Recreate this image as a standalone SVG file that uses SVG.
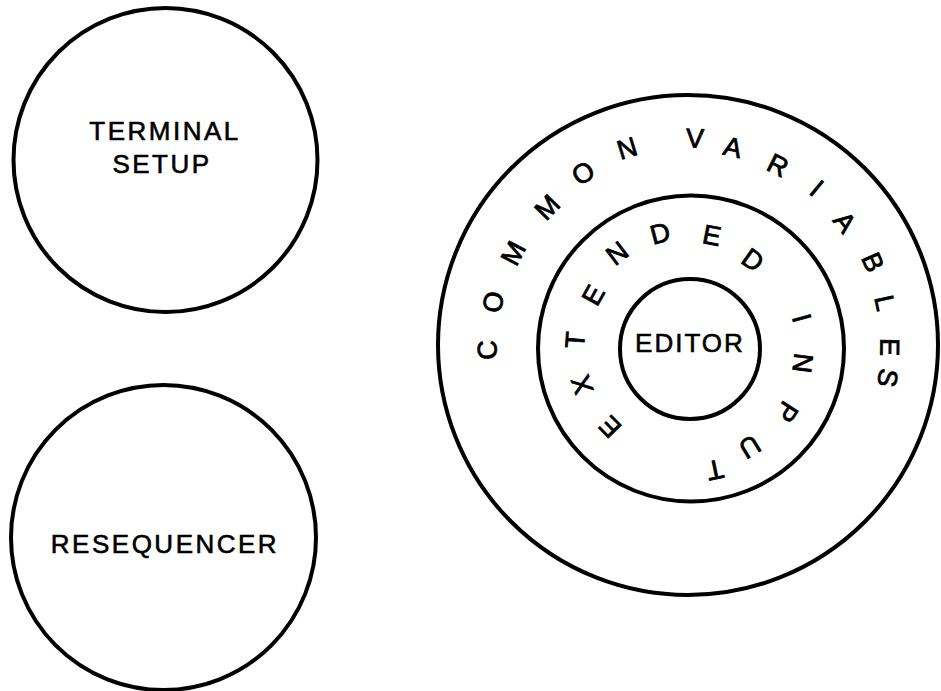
<svg xmlns="http://www.w3.org/2000/svg" width="941" height="691" viewBox="0 0 941 691">
<style>
.c{fill:none;stroke:#000;stroke-width:4}
.t{font-family:"Liberation Sans",Arial,Helvetica,sans-serif;font-size:26px;fill:#000;stroke:#000;stroke-width:0.6;text-anchor:middle;letter-spacing:2.5px}
.r{font-family:"Liberation Sans",Arial,Helvetica,sans-serif;font-size:27px;fill:#000;stroke:#000;stroke-width:0.8;text-anchor:middle}
</style>
<rect width="941" height="691" fill="#fff"/>
<g id="terminal-setup">
<circle class="c" cx="165.5" cy="160" r="152"/>
<text class="t" x="165" y="140">TERMINAL</text>
<text class="t" x="162" y="173">SETUP</text>
</g>
<g id="resequencer">
<circle class="c" cx="163.5" cy="537.5" r="152.5"/>
<text class="t" x="165" y="553">RESEQUENCER</text>
</g>
<g id="common-variables">
<circle class="c" cx="688" cy="345" r="250"/>
<text class="r" transform="translate(487,350) rotate(-91.4)" y="9.5">C</text>
<text class="r" transform="translate(493,302) rotate(-77.6)" y="9.5">O</text>
<text class="r" transform="translate(513,253) rotate(-62.3)" y="9.5">M</text>
<text class="r" transform="translate(547,207) rotate(-45.6)" y="9.5">M</text>
<text class="r" transform="translate(583,173) rotate(-31.4)" y="9.5">O</text>
<text class="r" transform="translate(627,148) rotate(-17.2)" y="9.5">N</text>
<text class="r" transform="translate(695,138) rotate(1.9)" y="9.5">V</text>
<text class="r" transform="translate(733,147) rotate(12.8)" y="9.5">A</text>
<text class="r" transform="translate(778,165) rotate(26.6)" y="9.5">R</text>
<text class="r" transform="translate(817,188) rotate(39.4)" y="9.5">I</text>
<text class="r" transform="translate(845,222) rotate(51.9)" y="9.5">A</text>
<text class="r" transform="translate(873,262) rotate(65.8)" y="9.5">B</text>
<text class="r" transform="translate(885,303) rotate(78)" y="9.5">L</text>
<text class="r" transform="translate(890,347) rotate(90.6)" y="9.5">E</text>
<text class="r" transform="translate(888,378) rotate(99.4)" y="9.5">S</text>
</g>
<g id="extended-input">
<circle class="c" cx="691" cy="348.5" r="153"/>
<text class="r" transform="translate(610,427) rotate(-134.3)" y="9.5">E</text>
<text class="r" transform="translate(582,385) rotate(-108.4)" y="9.5">X</text>
<text class="r" transform="translate(575,340) rotate(-85.5)" y="9.5">T</text>
<text class="r" transform="translate(593,295) rotate(-60.9)" y="9.5">E</text>
<text class="r" transform="translate(617,253) rotate(-37.3)" y="9.5">N</text>
<text class="r" transform="translate(660,233) rotate(-14.5)" y="9.5">D</text>
<text class="r" transform="translate(712,235) rotate(10.9)" y="9.5">E</text>
<text class="r" transform="translate(753,260) rotate(35.3)" y="9.5">D</text>
<text class="r" transform="translate(802,318) rotate(74.5)" y="9.5">I</text>
<text class="r" transform="translate(803,363) rotate(97.1)" y="9.5">N</text>
<text class="r" transform="translate(787,412) rotate(123)" y="9.5">P</text>
<text class="r" transform="translate(750,447) rotate(148.5)" y="9.5">U</text>
<text class="r" transform="translate(715,470) rotate(168.3)" y="9.5">T</text>
</g>
<g id="editor">
<circle class="c" cx="690" cy="349" r="70"/>
<text class="t" x="690" y="352" style="letter-spacing:2px">EDITOR</text>
</g>
<g id="connectors"></g>
</svg>
